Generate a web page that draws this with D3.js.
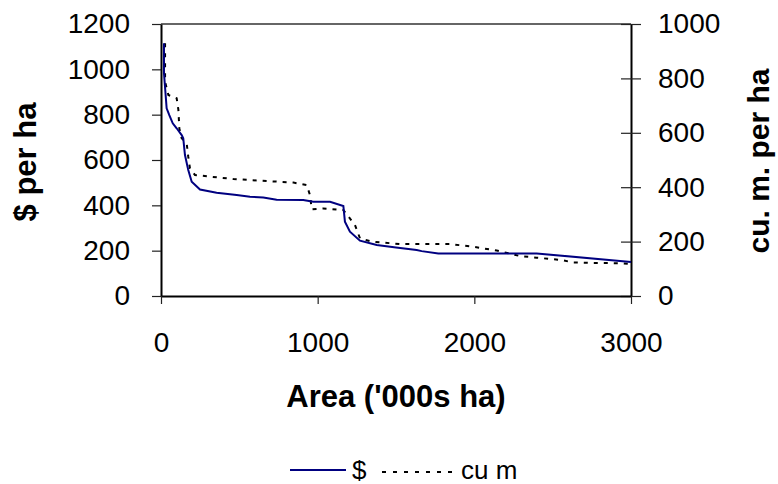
<!DOCTYPE html>
<html>
<head>
<meta charset="utf-8">
<script src="https://cdn.jsdelivr.net/npm/d3@7"></script>
<style>
  body { margin: 0; background: #fff; }
  svg { font-family: "Liberation Sans", Arial, sans-serif; }
</style>
</head>
<body>
<div id="chart"></div>
<script>
// $ per ha (left axis)
var dollarArea = [19, 19, 36, 53, 75, 100, 132, 142, 153, 174, 196, 249, 355, 483, 568, 653, 738, 908, 972, 1079, 1164, 1174, 1206, 1270, 1377, 1500, 1632, 1664, 1770, 2398, 3000];
var dollarVal  = [1115, 983, 828, 798, 762, 740, 710, 696, 622, 556, 504, 470, 456, 446, 438, 435, 425, 424, 416, 416, 397, 328, 284, 244, 225, 214, 203, 198, 188, 188, 150];

// cu. m. per ha (right axis)
var cumArea = [26, 26, 47, 100, 111, 117, 132, 164, 174, 185, 217, 313, 462, 632, 845, 930, 951, 962, 1036, 1164, 1238, 1270, 1345, 1526, 1845, 1994, 2143, 2291, 2398, 2558, 2632, 2951, 3000];
var cumVal  = [929, 788, 739, 727, 684, 616, 580, 561, 512, 469, 445, 439, 430, 424, 417, 408, 371, 319, 322, 316, 261, 212, 200, 191, 191, 181, 167, 147, 141, 132, 123, 120, 118];

var xTicks = [0, 1000, 2000, 3000];
var yLeftTicks = [0, 200, 400, 600, 800, 1000, 1200];
var yRightTicks = [0, 200, 400, 600, 800, 1000];

var W = 778, H = 484;
var plot = {left: 161, right: 631, top: 24, bottom: 296};

var svg = d3.select("#chart").append("svg")
  .attr("width", W).attr("height", H);

svg.append("rect").attr("width", W).attr("height", H).attr("fill", "#fff");

var x = d3.scaleLinear().domain([0, 3000]).range([plot.left, plot.right]);
var yL = d3.scaleLinear().domain([0, 1200]).range([plot.bottom, plot.top]);
var yR = d3.scaleLinear().domain([0, 1000]).range([plot.bottom, plot.top]);

var fmt = d3.format("d");

// top border of plot area
svg.append("line")
  .attr("x1", plot.left).attr("x2", plot.right)
  .attr("y1", plot.top).attr("y2", plot.top)
  .attr("stroke", "#333").attr("stroke-width", 1.5);

// left axis
var gL = svg.append("g")
  .attr("transform", "translate(" + plot.left + ",0)")
  .call(d3.axisLeft(yL).tickValues(yLeftTicks).tickFormat(fmt)
    .tickSize(9).tickPadding(22).tickSizeOuter(0));

// right axis, ticks cross the line
var gR = svg.append("g")
  .attr("transform", "translate(" + plot.right + ",0)")
  .call(d3.axisRight(yR).tickValues(yRightTicks).tickFormat(fmt)
    .tickSize(10).tickPadding(17).tickSizeOuter(0));
gR.selectAll(".tick line").attr("x1", -10).attr("x2", 10);

// bottom axis
var gB = svg.append("g")
  .attr("transform", "translate(0," + plot.bottom + ")")
  .call(d3.axisBottom(x).tickValues(xTicks).tickFormat(fmt)
    .tickSize(8).tickPadding(28).tickSizeOuter(0));

[gL, gR, gB].forEach(function(g) {
  g.select(".domain").attr("stroke", "#000").attr("stroke-width", 2);
  g.selectAll(".tick line").attr("stroke", "#222").attr("stroke-width", 1.2);
  g.selectAll(".tick text")
    .attr("font-size", 28)
    .attr("font-family", "Liberation Sans, Arial, sans-serif")
    .attr("fill", "#000");
});

// lines
var lineD = d3.line()
  .x(function(d) { return x(d[0]); })
  .y(function(d) { return yL(d[1]); });
var lineC = d3.line()
  .x(function(d) { return x(d[0]); })
  .y(function(d) { return yR(d[1]); });

svg.append("path")
  .datum(cumArea.map(function(a, i) { return [a, cumVal[i]]; }))
  .attr("d", lineC)
  .attr("fill", "none")
  .attr("stroke", "#000")
  .attr("stroke-width", 2)
  .attr("stroke-dasharray", "4,6");

svg.append("path")
  .datum(dollarArea.map(function(a, i) { return [a, dollarVal[i]]; }))
  .attr("d", lineD)
  .attr("fill", "none")
  .attr("stroke", "#000080")
  .attr("stroke-width", 2);

// axis titles
svg.append("text")
  .attr("x", (plot.left + plot.right) / 2)
  .attr("y", 407)
  .attr("text-anchor", "middle")
  .attr("font-size", 31)
  .attr("font-weight", "bold")
  .text("Area ('000s ha)");

svg.append("text")
  .attr("transform", "translate(36,162) rotate(-90)")
  .attr("text-anchor", "middle")
  .attr("font-size", 31)
  .attr("font-weight", "bold")
  .text("$ per ha");

svg.append("text")
  .attr("transform", "translate(769,161) rotate(-90)")
  .attr("text-anchor", "middle")
  .attr("font-size", 30)
  .attr("font-weight", "bold")
  .text("cu. m. per ha");

// legend
var leg = svg.append("g").attr("transform", "translate(0,470)");
leg.append("line")
  .attr("x1", 290).attr("x2", 346).attr("y1", 0).attr("y2", 0)
  .attr("stroke", "#000080").attr("stroke-width", 2);
leg.append("text")
  .attr("x", 352).attr("y", 9)
  .attr("font-size", 26)
  .text("$");
leg.append("line")
  .attr("x1", 382).attr("x2", 457).attr("y1", 2).attr("y2", 2)
  .attr("stroke", "#000").attr("stroke-width", 2)
  .attr("stroke-dasharray", "4,7");
leg.append("text")
  .attr("x", 461).attr("y", 9)
  .attr("font-size", 26)
  .text("cu m");
</script>
</body>
</html>
